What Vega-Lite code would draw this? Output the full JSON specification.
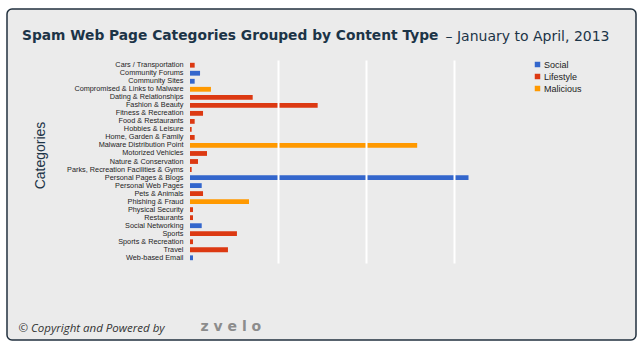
{
  "$schema": "https://vega.github.io/schema/vega-lite/v6.json",
  "width": 629,
  "height": 331,
  "autosize": {"type": "none"},
  "padding": {"left": 7, "top": 9, "right": 7, "bottom": 12},
  "background": "white",
  "title": {
    "text": "Spam Web Page Categories Grouped by Content Type",
    "anchor": "start",
    "frame": "group",
    "orient": "top",
    "font": "DejaVu Sans",
    "fontSize": 13.8,
    "fontWeight": "bold",
    "color": "#1c3447",
    "dx": 15,
    "dy": 38
  },
  "data": {
    "values": [
      {"category": "Cars / Transportation", "type": "Lifestyle", "value": 0.53},
      {"category": "Community Forums", "type": "Social", "value": 1.14},
      {"category": "Community Sites", "type": "Social", "value": 0.53},
      {"category": "Compromised & Links to Malware", "type": "Malicious", "value": 2.38},
      {"category": "Dating & Relationships", "type": "Lifestyle", "value": 7.12},
      {"category": "Fashion & Beauty", "type": "Lifestyle", "value": 14.5},
      {"category": "Fitness & Recreation", "type": "Lifestyle", "value": 1.48},
      {"category": "Food & Restaurants", "type": "Lifestyle", "value": 0.53},
      {"category": "Hobbies & Leisure", "type": "Lifestyle", "value": 0.19},
      {"category": "Home, Garden & Family", "type": "Lifestyle", "value": 0.53},
      {"category": "Malware Distribution Point", "type": "Malicious", "value": 25.8},
      {"category": "Motorized Vehicles", "type": "Lifestyle", "value": 1.93},
      {"category": "Nature & Conservation", "type": "Lifestyle", "value": 0.91},
      {"category": "Parks, Recreation Facilities & Gyms", "type": "Lifestyle", "value": 0.19},
      {"category": "Personal Pages & Blogs", "type": "Social", "value": 31.63},
      {"category": "Personal Web Pages", "type": "Social", "value": 1.33},
      {"category": "Pets & Animals", "type": "Lifestyle", "value": 1.48},
      {"category": "Phishing & Fraud", "type": "Malicious", "value": 6.7},
      {"category": "Physical Security", "type": "Lifestyle", "value": 0.34},
      {"category": "Restaurants", "type": "Lifestyle", "value": 0.34},
      {"category": "Social Networking", "type": "Social", "value": 1.33},
      {"category": "Sports", "type": "Lifestyle", "value": 5.33},
      {"category": "Sports & Recreation", "type": "Lifestyle", "value": 0.34},
      {"category": "Travel", "type": "Lifestyle", "value": 4.31},
      {"category": "Web-based Email", "type": "Social", "value": 0.34}
    ]
  },
  "layer": [
    {
      "mark": {"type": "bar"},
      "encoding": {
        "y": {
          "field": "category",
          "type": "nominal",
          "sort": null,
          "scale": {"range": [51, 254], "paddingInner": 0.4, "paddingOuter": 0.35},
          "axis": {
            "orient": "left",
            "offset": -176,
            "ticks": false,
            "domain": false,
            "labelPadding": 0,
            "labelFont": "Liberation Sans",
            "labelFontSize": 7.3,
            "labelColor": "#1e1e1e",
            "title": "Categories",
            "titleFont": "Liberation Sans",
            "titleFontSize": 14,
            "titleFontWeight": "normal",
            "titleColor": "#1c3447",
            "titleAngle": -90,
            "titleAlign": "center",
            "titleBaseline": "middle",
            "titleX": -143,
            "titleY": 146
          }
        },
        "x": {
          "field": "value",
          "type": "quantitative",
          "scale": {"domain": [0, 38.5], "range": [183, 522], "nice": false, "zero": true},
          "axis": {
            "orient": "bottom",
            "labels": false,
            "ticks": false,
            "domain": false,
            "grid": false,
            "title": "© Copyright and Powered by",
            "titleFont": "Open Sans",
            "titleFontSize": 11.5,
            "titleFontStyle": "italic",
            "titleFontWeight": "normal",
            "titleColor": "#333333",
            "titleAnchor": "start",
            "titleAlign": "left",
            "titleBaseline": "alphabetic",
            "titleX": 11,
            "titleY": -9
          }
        },
        "color": {
          "field": "type",
          "type": "nominal",
          "scale": {"domain": ["Social", "Lifestyle", "Malicious"], "range": ["#3366cc", "#dc3912", "#ff9900"]},
          "legend": {
            "orient": "none",
            "legendX": 526,
            "legendY": 51,
            "title": null,
            "symbolType": "square",
            "symbolSize": 30,
            "symbolStrokeWidth": 0,
            "labelFont": "Liberation Sans",
            "labelFontSize": 9,
            "labelColor": "#222222",
            "labelOffset": 2,
            "rowPadding": 2
          }
        }
      }
    },
    {
      "mark": {"type": "bar", "opacity": 0},
      "encoding": {
        "y": {
          "field": "category",
          "type": "nominal",
          "sort": null,
          "axis": {
            "orient": "right",
            "labels": false,
            "ticks": false,
            "domain": false,
            "grid": false,
            "title": "z\u00a0v\u00a0e\u00a0l\u00a0o",
            "titleFont": "DejaVu Sans",
            "titleFontSize": 14,
            "titleFontWeight": "bold",
            "titleColor": "#8c8c8c",
            "titleAngle": 0,
            "titleAlign": "left",
            "titleBaseline": "alphabetic",
            "titleX": -436,
            "titleY": 321
          }
        },
        "x": {
          "field": "value",
          "type": "quantitative",
          "axis": {
            "orient": "top",
            "values": [10, 20, 30],
            "labels": false,
            "ticks": false,
            "domain": false,
            "grid": true,
            "gridColor": "#ffffff",
            "gridWidth": 2,
            "gridOpacity": 1,
            "zindex": 1,
            "title": "– January to April, 2013",
            "titleFont": "DejaVu Sans",
            "titleFontSize": 14,
            "titleFontWeight": "normal",
            "titleColor": "#1c3447",
            "titleAnchor": "start",
            "titleAlign": "left",
            "titleBaseline": "alphabetic",
            "titleX": 438,
            "titleY": 31
          }
        }
      }
    }
  ],
  "resolve": {"axis": {"x": "independent", "y": "independent"}},
  "config": {
    "view": {"fill": "#ebebeb", "stroke": "#22313f", "strokeWidth": 1.5, "cornerRadius": 5}
  }
}
